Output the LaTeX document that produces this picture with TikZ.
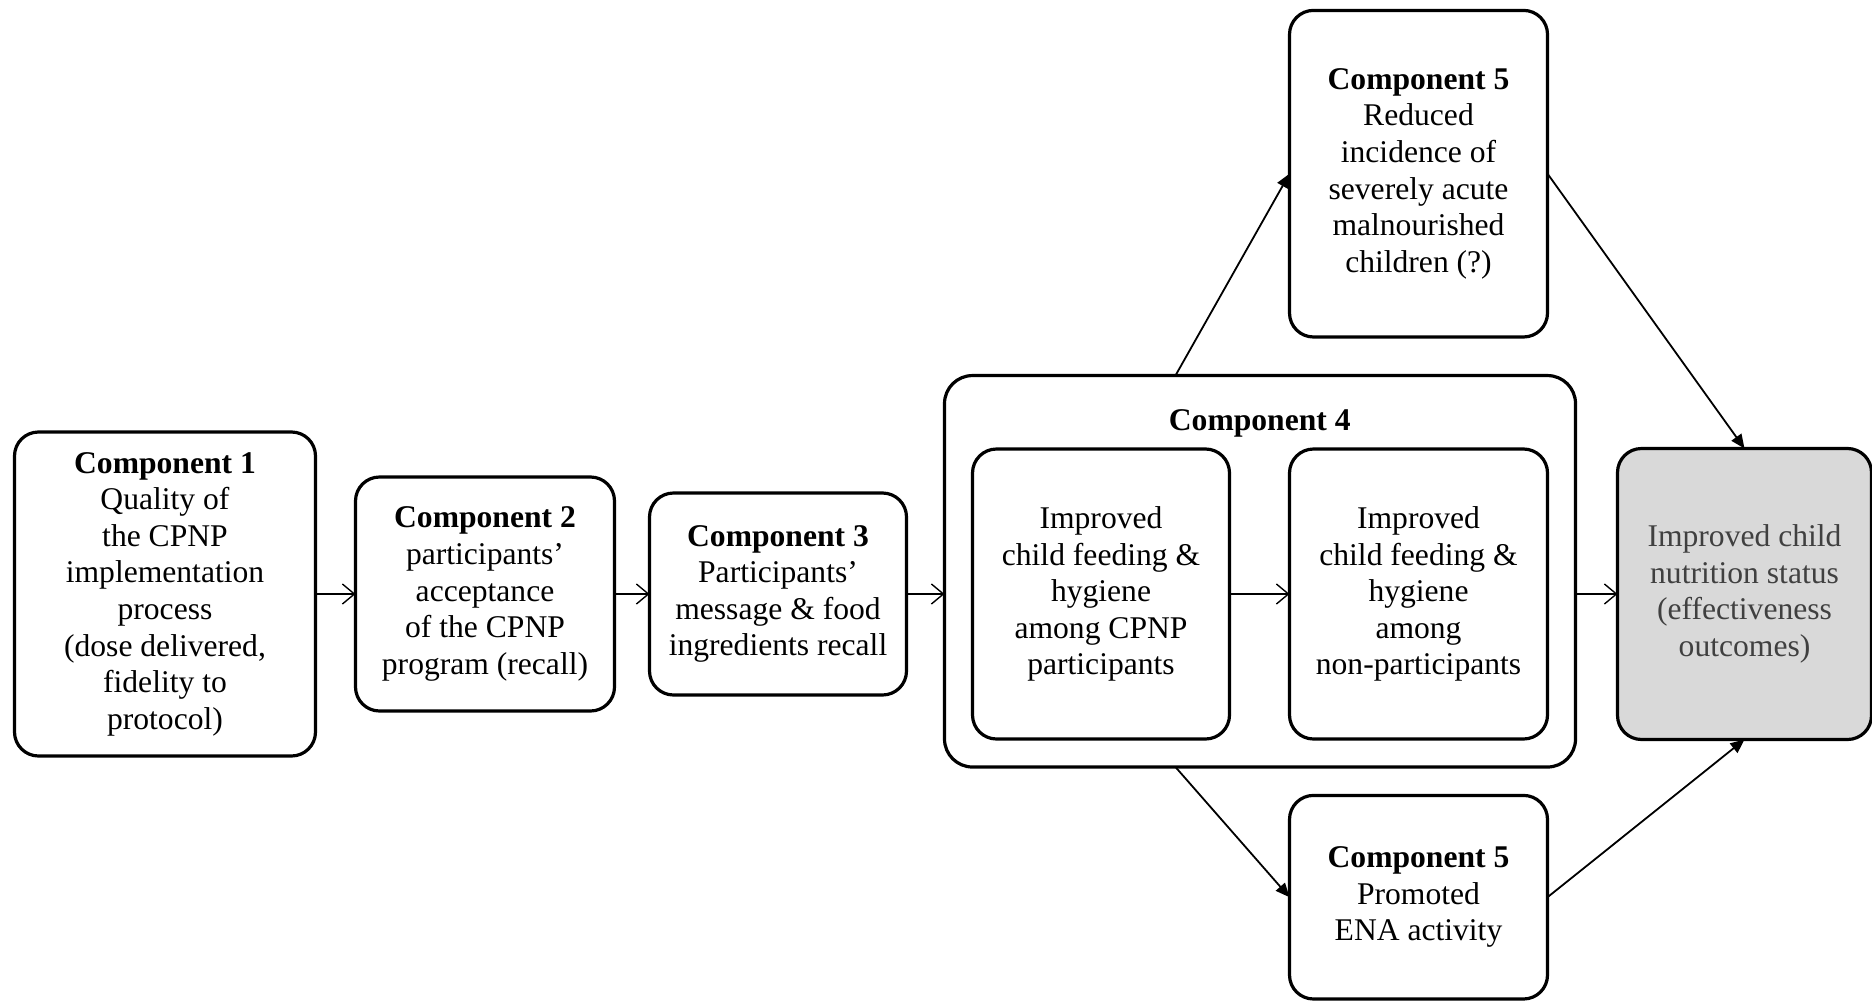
\documentclass[tikz,border=0pt]{standalone}
\usepackage{fontspec}
\setmainfont{Liberation Serif}
\usetikzlibrary{arrows.meta,positioning,fit,calc}
\tikzset{
  comp/.style  ={draw, line width=1.6pt, rounded corners=12pt, align=center,
                 font=\fontsize{15.8}{18.3}\selectfont, inner sep=2pt, outer sep=0pt},
  outc/.style  ={comp, fill=black!15, text=black!75},
  ttl/.style   ={font=\fontsize{15.8}{18.3}\selectfont\bfseries, inner xsep=0pt, inner ysep=3pt},
  grp/.style   ={draw, line width=1.6pt, rounded corners=14pt, inner sep=14pt, outer sep=0pt},
  flow/.style  ={-{Straight Barb[length=6pt,width=10pt]}, line width=0.7pt},
  dflow/.style ={-{Triangle[length=7pt,width=6pt]}, line width=0.9pt},
}
\begin{document}
\begin{tikzpicture}[x=0.5pt, y=-0.5pt]
\useasboundingbox (0,0) rectangle (1872,1001);

\node[comp, minimum width=150.5pt, minimum height=162pt] (c1) at (165,594)
  {\textbf{Component 1}\\Quality of\\the CPNP\\implementation\\process\\(dose delivered,\\fidelity to\\protocol)};
\node[comp, right=20pt of c1, minimum width=129.5pt, minimum height=117pt] (c2)
  {\textbf{Component 2}\\participants'\\acceptance\\of the CPNP\\program (recall)};
\node[comp, right=17.5pt of c2, minimum width=128.5pt, minimum height=101pt] (c3)
  {\textbf{Component 3}\\Participants'\\message \& food\\ingredients recall};
\node[comp, right=33pt of c3, minimum width=128.5pt, minimum height=145pt] (c4a)
  {Improved\\child feeding \&\\hygiene\\among CPNP\\participants};
\node[comp, right=30pt of c4a, minimum width=129pt, minimum height=145pt] (c4b)
  {Improved\\child feeding \&\\hygiene\\among\\non-participants};
\coordinate (c4mid) at ($(c4a.north)!0.5!(c4b.north)$);
\node[ttl, above=2.5pt of c4mid] (c4t) {Component 4};
\node[grp, fit=(c4a)(c4b)(c4t)] (c4) {};

\node[comp, above=56pt of c4b, minimum width=129pt, minimum height=163.3pt] (c5a)
  {\textbf{Component 5}\\Reduced\\incidence of\\severely acute\\malnourished\\children (?)};
\node[comp, below=28.2pt of c4b, minimum width=129pt, minimum height=101.8pt] (c5b)
  {\textbf{Component 5}\\Promoted\\ENA activity};
\node[outc, anchor=west, minimum width=127pt, minimum height=145.5pt] (out)
  at ($(c4.east |- c4b)+(21pt,0)$)
  {Improved child\\nutrition status\\(effectiveness\\outcomes)};

\coordinate (c4up) at ($(c4.north west)!0.366!(c4.north east)$);
\coordinate (c4dn) at ($(c4.south west)!0.366!(c4.south east)$);

\draw[flow] (c1) -- (c2);
\draw[flow] (c2) -- (c3);
\draw[flow] (c3.east) -- (c3.east -| c4.west);
\draw[flow] (c4a) -- (c4b);
\draw[flow] (c4.east |- out) -- (out.west);
\draw[dflow] (c4up) -- (c5a.west);
\draw[dflow] (c5a.east) -- (out.north);
\draw[dflow] (c4dn) -- (c5b.west);
\draw[dflow] (c5b.east) -- (out.south);

\end{tikzpicture}
\end{document}
